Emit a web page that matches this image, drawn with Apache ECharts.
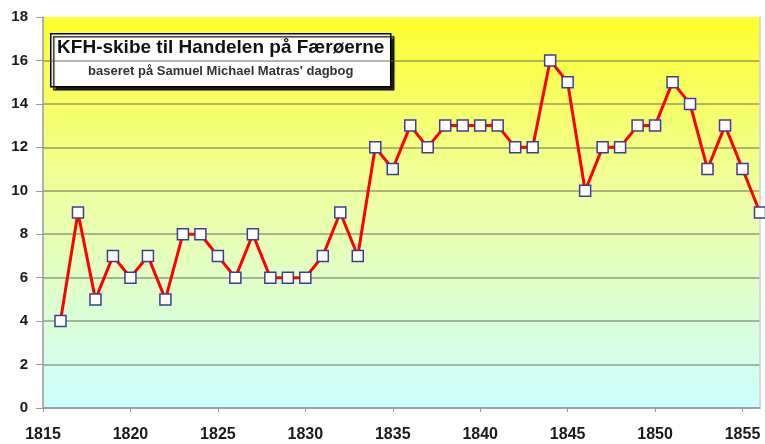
<!DOCTYPE html>
<html>
<head>
<meta charset="utf-8">
<script src="https://cdn.jsdelivr.net/npm/echarts@6/dist/echarts.min.js"></script>
<style>html,body{margin:0;padding:0;background:#fff}#c{width:765px;height:444px}</style>
</head>
<body>
<div id="c"></div>
<script>
const years = [1816,1817,1818,1819,1820,1821,1822,1823,1824,1825,1826,1827,1828,1829,1830,1831,1832,1833,1834,1835,1836,1837,1838,1839,1840,1841,1842,1843,1844,1845,1846,1847,1848,1849,1850,1851,1852,1853,1854,1855,1856];
const ships = [4,9,5,7,6,7,5,8,8,7,6,8,6,6,6,7,9,7,12,11,13,12,13,13,13,13,12,12,16,15,10,12,12,13,13,15,14,11,13,11,9];
const xTicks = [1815,1820,1825,1830,1835,1840,1845,1850,1855];
const titleText = 'KFH-skibe til Handelen på Færøerne';
const subText = "baseret på Samuel Michael Matras' dagbog";

const chart = echarts.init(document.getElementById('c'));
const font = '"Liberation Sans", Arial, sans-serif';
chart.setOption({
  animation: false,
  grid: {
    left: 43, right: 5, top: 17, bottom: 36,
    show: true, borderWidth: 0,
    backgroundColor: {type:'linear', x:0, y:0, x2:0, y2:1, colorStops:[
      {offset:0, color:'#ffff2e'},
      {offset:0.45, color:'#eeffa0'},
      {offset:1, color:'#ccffff'}
    ]}
  },
  xAxis: {
    type: 'value', min: 1815, max: 1856, interval: 5,
    axisLine: {lineStyle: {color: '#9a9a9a', width: 1.5}},
    axisTick: {show: true, length: 4, lineStyle: {color: '#9a9a9a'}, customValues: xTicks},
    axisLabel: {customValues: xTicks, formatter: v => String(v), color: '#1a1a1a', fontFamily: font, fontSize: 16, fontWeight: 'bold', margin: 19},
    splitLine: {show: false}
  },
  yAxis: [{
    type: 'value', min: 0, max: 18, interval: 2,
    axisLine: {show: true, lineStyle: {color: '#9a9a9a', width: 1.5}},
    axisTick: {show: true, length: 7, lineStyle: {color: '#9a9a9a'}},
    axisLabel: {color: '#1a1a1a', fontFamily: font, fontSize: 15, fontWeight: 'bold', margin: 15},
    splitLine: {show: true, showMaxLine: false, lineStyle: {color: 'rgba(90,90,90,0.6)', width: 1.5}}
  }, {
    type: 'value', min: 0, max: 18, position: 'right',
    axisLine: {show: true, lineStyle: {color: '#d0d0d0', width: 1.5}},
    axisTick: {show: false}, axisLabel: {show: false}, splitLine: {show: false}
  }],
  series: [{
    type: 'line',
    data: years.map((y, i) => [y, ships[i]]),
    lineStyle: {color: '#ff0000', width: 3},
    symbol: 'rect', symbolSize: 11, showAllSymbol: true,
    itemStyle: {color: '#ffffff', borderColor: '#3c3c9a', borderWidth: 1.5},
    z: 3
  }],
  graphic: [{
    type: 'group', left: 50, top: 33, z: 10,
    children: [
      {type: 'rect', shape: {x: 0, y: 0, width: 340, height: 53},
       style: {fill: '#ffffff', stroke: '#000', lineWidth: 1.5,
               shadowColor: 'rgba(0,0,0,0.85)', shadowOffsetX: 3, shadowOffsetY: 3, shadowBlur: 1}},
      {type: 'text', x: 170, y: 5, style: {text: titleText, fill: '#111', font: 'bold 19px ' + font, textAlign: 'center'}},
      {type: 'text', x: 170, y: 31, style: {text: subText, fill: '#333', font: 'bold 13px ' + font, textAlign: 'center'}}
    ]
  }]
});
</script>
</body>
</html>
